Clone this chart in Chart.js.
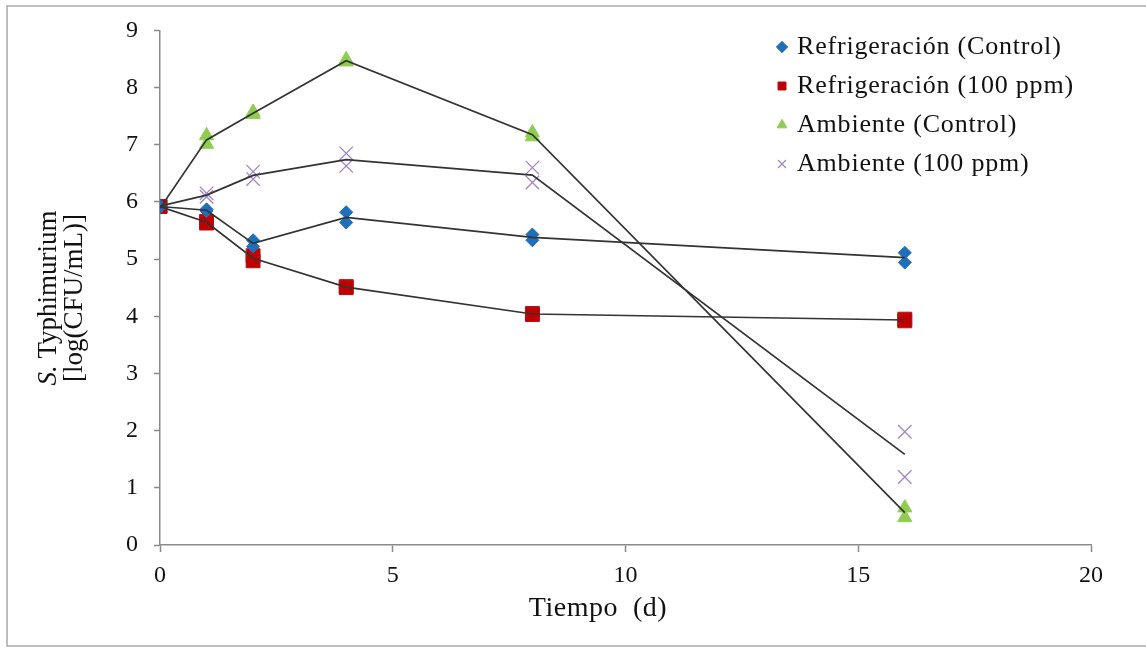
<!DOCTYPE html>
<html>
<head>
<meta charset="utf-8">
<script src="https://cdn.jsdelivr.net/npm/chart.js@4/dist/chart.umd.min.js"></script>
<style>
html,body{margin:0;padding:0;background:#fff;}
#wrap{width:1146px;height:650px;position:relative;overflow:hidden;}
canvas{display:block;}
</style>
</head>
<body>
<div id="wrap"><canvas id="c" width="1146" height="650"></canvas></div>
<script>
// ---- data ----
const days = [0, 1, 2, 4, 8, 16];
const seriesNames = ['Refrigeración (Control)', 'Refrigeración (100 ppm)', 'Ambiente (Control)', 'Ambiente (100 ppm)'];
// two replicate readings per time point
const refrigControlRep1 = [5.93, 5.87, 5.33, 5.82, 5.43, 5.11];
const refrigControlRep2 = [5.91, 5.84, 5.22, 5.64, 5.33, 4.94];
const refrig100Rep1     = [5.92, 5.66, 5.06, 4.52, 4.05, 3.95];
const refrig100Rep2     = [5.92, 5.63, 4.97, 4.50, 4.03, 3.92];
const ambControlRep1    = [5.90, 7.16, 7.57, 8.49, 7.21, 0.65];
const ambControlRep2    = [5.88, 7.01, 7.53, 8.45, 7.14, 0.48];
const amb100Rep1        = [5.93, 6.15, 6.53, 6.85, 6.60, 1.98];
const amb100Rep2        = [5.92, 6.09, 6.40, 6.63, 6.34, 1.19];
const xTickValues = [0, 5, 10, 15, 20];
const yTickValues = [0, 1, 2, 3, 4, 5, 6, 7, 8, 9];
const xTitle = 'Tiempo  (d)';
const yTitleItalic = 'S.';
const yTitleRest = ' Typhimurium';
const yTitleLine2 = '[log(CFU/mL)]';

// ---- helpers ----
function repPoints(a, b) {
  const out = [];
  days.forEach((d, i) => { out.push({x: d, y: a[i]}); out.push({x: d, y: b[i]}); });
  return out;
}
function meanPoints(a, b) {
  return days.map((d, i) => ({x: d, y: (a[i] + b[i]) / 2}));
}

const FONT = '"Liberation Serif", "Times New Roman", serif';
Chart.defaults.font.family = FONT;
Chart.defaults.color = '#111';

const axisGray = '#8a8a8a';
const lineGray = '#333333';

const markerSets = [
  {label: seriesNames[0], data: repPoints(refrigControlRep1, refrigControlRep2), pointStyle: 'rectRot', pointRadius: 6.5,
   backgroundColor: '#1f6fbb', borderColor: '#1f6fbb', borderWidth: 1},
  {label: seriesNames[1], data: repPoints(refrig100Rep1, refrig100Rep2), pointStyle: 'rect', pointRadius: 9.8,
   backgroundColor: '#c00000', borderColor: '#b5111b', borderWidth: 1},
  {label: seriesNames[2], data: repPoints(ambControlRep1, ambControlRep2), pointStyle: 'triangle', pointRadius: 8.2,
   backgroundColor: '#8fcd52', borderColor: '#8fcd52', borderWidth: 1},
  {label: seriesNames[3], data: repPoints(amb100Rep1, amb100Rep2), pointStyle: 'crossRot', pointRadius: 9.5,
   backgroundColor: '#9f86c9', borderColor: '#9f86c9', borderWidth: 1.3}
].map(d => Object.assign(d, {showLine: false, order: 2, pointHoverRadius: d.pointRadius}));

const lineSets = [
  meanPoints(refrigControlRep1, refrigControlRep2),
  meanPoints(refrig100Rep1, refrig100Rep2),
  meanPoints(ambControlRep1, ambControlRep2),
  meanPoints(amb100Rep1, amb100Rep2)
].map((pts, i) => ({
  label: seriesNames[i] + ' media', data: pts, showLine: true, pointRadius: 0, pointHoverRadius: 0,
  borderColor: lineGray, backgroundColor: lineGray, borderWidth: 1.7, tension: 0, fill: false, order: 1
}));

const decorPlugin = {
  id: 'decor',
  beforeDraw(chart) {
    const c = chart.ctx;
    c.save();
    c.fillStyle = '#fff';
    c.fillRect(0, 0, chart.width, chart.height);
    c.strokeStyle = '#a8a8a8';
    c.lineWidth = 1.5;
    c.strokeRect(7, 6, 1160, 640);
    c.restore();
  },
  afterLayout(chart) {
    const l = chart.legend;
    if (!l) return;
    const L = 767, T = 21, W = 375;
    const h = l.height;
    l.left = L; l.top = T; l.right = L + W; l.bottom = T + h; l.width = W;
    if (!l._spaced) {
      const orig = l.draw.bind(l);
      l.draw = function (area) {
        const c = this.ctx;
        const prev = c.letterSpacing;
        c.letterSpacing = '0.8px';
        orig(area);
        c.letterSpacing = prev || '0px';
      };
      l._spaced = true;
    }
  },
  afterDraw(chart) {
    const c = chart.ctx;
    c.save();
    c.fillStyle = '#111';
    c.textBaseline = 'alphabetic';
    // x axis title
    c.font = '28px ' + FONT;
    c.letterSpacing = '0.5px';
    c.textAlign = 'center';
    c.fillText(xTitle, 598, 616);
    c.letterSpacing = '0px';
    // y axis title, line 1 with italic "S."
    const fi = 'italic 27px ' + FONT, fn = '27px ' + FONT;
    c.save();
    c.translate(56, 298);
    c.rotate(-Math.PI / 2);
    c.font = fi; const w1 = c.measureText(yTitleItalic).width;
    c.font = fn; const w2 = c.measureText(yTitleRest).width;
    const start = -(w1 + w2) / 2;
    c.textAlign = 'left';
    c.font = fi; c.fillText(yTitleItalic, start, 0);
    c.font = fn; c.fillText(yTitleRest, start + w1, 0);
    c.restore();
    // y axis title, line 2
    c.save();
    c.translate(82, 298);
    c.rotate(-Math.PI / 2);
    c.font = fn;
    c.textAlign = 'center';
    c.fillText(yTitleLine2, 0, 0);
    c.restore();
    c.restore();
  }
};

new Chart(document.getElementById('c'), {
  type: 'scatter',
  data: {datasets: markerSets.concat(lineSets)},
  options: {
    responsive: false,
    animation: false,
    devicePixelRatio: 1,
    layout: {padding: {left: 0, right: 55, top: 29, bottom: 45}},
    plugins: {
      tooltip: {enabled: false},
      title: {display: false},
      legend: {
        display: true,
        position: 'chartArea',
        align: 'start',
        labels: {
          filter: (item) => item.datasetIndex < 4,
          usePointStyle: true,
          boxWidth: 4,
          boxHeight: 8,
          padding: 13,
          color: '#111',
          font: {size: 26, family: FONT}
        }
      }
    },
    scales: {
      x: {
        type: 'linear',
        min: 0, max: 20,
        afterBuildTicks: (s) => { s.ticks = xTickValues.map(v => ({value: v})); },
        afterFit: (s) => { s.height = 60; },
        ticks: {padding: 9, color: '#111', font: {size: 24, family: FONT}},
        grid: {display: true, drawOnChartArea: false, drawTicks: true, tickLength: 7, tickColor: axisGray, tickWidth: 1.5},
        border: {display: true, color: axisGray, width: 1.5},
        title: {display: false}
      },
      y: {
        type: 'linear',
        min: 0, max: 9,
        afterBuildTicks: (s) => { s.ticks = yTickValues.map(v => ({value: v})); },
        afterFit: (s) => { s.width = 160; },
        ticks: {padding: 16, color: '#111', font: {size: 24, family: FONT}},
        grid: {display: true, drawOnChartArea: false, drawTicks: true, tickLength: 6, tickColor: axisGray, tickWidth: 1.5},
        border: {display: true, color: axisGray, width: 1.5},
        title: {display: false}
      }
    }
  },
  plugins: [decorPlugin]
});
</script>
</body>
</html>
